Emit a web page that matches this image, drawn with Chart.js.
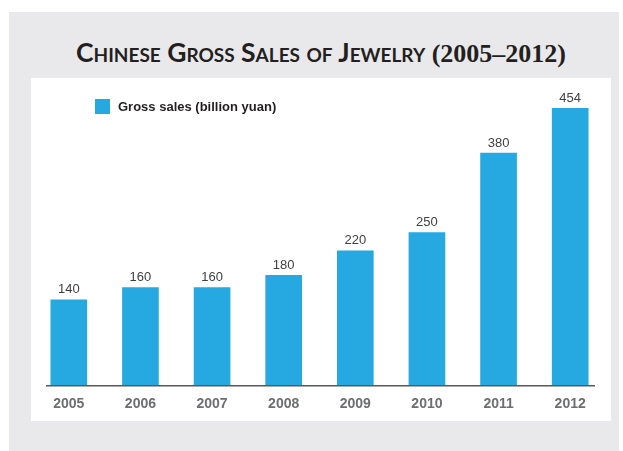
<!DOCTYPE html>
<html>
<head>
<meta charset="utf-8">
<title>Chinese Gross Sales of Jewelry</title>
<script src="https://cdn.jsdelivr.net/npm/chart.js@4.4.1/dist/chart.umd.min.js"></script>
<style>
    body { margin: 0; background: #fff; width: 623px; height: 451px; position: relative; overflow: hidden; }
    .backdrop { position: absolute; left: 9px; top: 12px; width: 610px; height: 439px; background: #e9e9eb; }
    .title {
        position: absolute; left: 31px; width: 580px; top: 37px; text-align: center;
        font-family: Lato, "Open Sans", sans-serif; font-weight: 700; font-variant: small-caps;
        font-size: 26.5px; line-height: 30px; color: #231f20; white-space: nowrap;
    }
    .title .years { font-family: "Liberation Serif", "DejaVu Serif", serif; font-variant: normal; font-size: 26px; }
    .panel { position: absolute; left: 31px; top: 78px; width: 580px; height: 343px; background: #fff; }
    .legend { position: absolute; left: 64px; top: 21px; display: flex; align-items: center;
        font-family: "Liberation Sans", Arial, sans-serif; font-weight: 700; font-size: 13px; color: #231f20; }
    .legend .swatch { width: 15px; height: 15px; background: #25a9e0; margin-right: 8px; }
    canvas { position: absolute; left: 0; top: 0; }
</style>
</head>
<body>
<div class="backdrop"></div>
<div class="title">Chinese Gross Sales of Jewelry <span class="years">(2005–2012)</span></div>
<div class="panel">
    <div class="chart-box" style="position:absolute;left:0;top:0;width:580px;height:346px;">
        <canvas id="salesChart"></canvas>
    </div>
    <div class="legend"><span class="swatch"></span><span id="legendText"></span></div>
</div>

<script>
const years = ['2005', '2006', '2007', '2008', '2009', '2010', '2011', '2012'];
const grossSales = [140, 160, 160, 180, 220, 250, 380, 454];
const seriesName = 'Gross sales (billion yuan)';

const barColor = '#25a9e0';

document.getElementById('legendText').textContent = seriesName;

// value labels above bars + short baseline
const barLabels = {
    id: 'barLabels',
    afterDatasetsDraw(chart) {
        const ctx = chart.ctx;
        const meta = chart.getDatasetMeta(0);
        ctx.save();
        ctx.font = '13px "Liberation Sans", Arial, sans-serif';
        ctx.fillStyle = '#414042';
        ctx.textAlign = 'center';
        ctx.textBaseline = 'middle';
        meta.data.forEach((bar, i) => {
            ctx.fillText(String(grossSales[i]), bar.x, bar.y - 10);
        });
        // axis line
        const x = chart.scales.x;
        const y0 = chart.scales.y.getPixelForValue(0);
        ctx.strokeStyle = '#58595b';
        ctx.lineWidth = 1.5;
        ctx.beginPath();
        ctx.moveTo(x.left + 13, y0 + 0.5);
        ctx.lineTo(x.right - 11, y0 + 0.5);
        ctx.stroke();
        ctx.restore();
    }
};

new Chart(document.getElementById('salesChart').getContext('2d'), {
    type: 'bar',
    data: {
        labels: years,
        datasets: [{
            label: seriesName,
            data: grossSales,
            backgroundColor: barColor,
            borderWidth: 0,
            barThickness: 36
        }]
    },
    options: {
        responsive: true,
        maintainAspectRatio: false,
        animation: false,
        layout: { padding: { left: 2, right: 5, top: 30, bottom: 0 } },
        plugins: {
            legend: { display: false },
            tooltip: { enabled: false }
        },
        scales: {
            x: {
                grid: { display: false, drawTicks: false },
                border: { display: false },
                ticks: {
                    padding: 11,
                    color: '#6d6e71',
                    font: { family: '"Liberation Sans", Arial, sans-serif', size: 14, weight: 'bold' }
                }
            },
            y: {
                display: false,
                min: 0,
                max: 454
            }
        }
    },
    plugins: [barLabels]
});
</script>
</body>
</html>
